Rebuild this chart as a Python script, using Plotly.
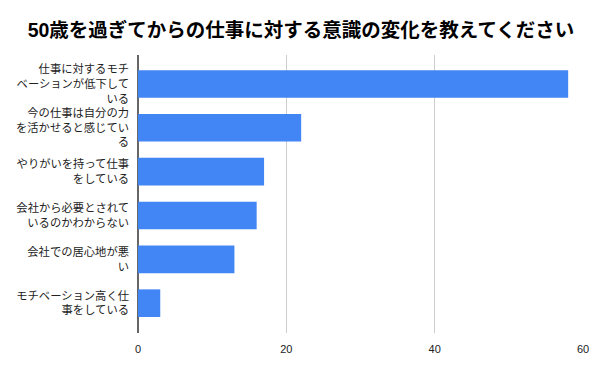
import plotly.graph_objects as go

categories = [
    "仕事に対するモチ<br>ベーションが低下して<br>いる",
    "今の仕事は自分の力<br>を活かせると感じてい<br>る",
    "やりがいを持って仕事<br>をしている",
    "会社から必要とされて<br>いるのかわからない",
    "会社での居心地が悪<br>い",
    "モチベーション高く仕<br>事をしている",
]
values = [58, 22, 17, 16, 13, 3]
x_ticks = [0, 20, 40, 60]
title = "50歳を過ぎてからの仕事に対する意識の変化を教えてください"

font_family = "Liberation Sans, Noto Sans CJK JP, sans-serif"

fig = go.Figure(
    go.Bar(
        x=values,
        y=categories,
        orientation="h",
        marker=dict(color="#4285f4", line=dict(width=0)),
        width=0.63,
        hoverinfo="x+y",
    )
)

fig.update_layout(
    width=602,
    height=372,
    margin=dict(l=138, r=19, t=55, b=39),
    paper_bgcolor="white",
    plot_bgcolor="white",
    showlegend=False,
    title=dict(
        text="<b>" + title + "</b>",
        x=0.5,
        xanchor="center",
        y=0.92,
        yanchor="middle",
        font=dict(family=font_family, size=19.5, color="#000000"),
    ),
    font=dict(family=font_family, size=11, color="#222222"),
)

fig.update_xaxes(
    range=[0, 60],
    tickvals=x_ticks,
    ticktext=[str(t) for t in x_ticks],
    showgrid=True,
    gridcolor="#cccccc",
    gridwidth=1,
    zeroline=True,
    zerolinecolor="#666666",
    zerolinewidth=1.6,
    showline=False,
    ticks="",
    ticklabelstandoff=8,
    automargin=False,
    tickfont=dict(size=11, color="#222222"),
)

fig.update_yaxes(
    range=[5.68, -0.66],
    showgrid=False,
    zeroline=False,
    showline=False,
    ticks="",
    ticklabelstandoff=8,
    automargin=False,
    tickfont=dict(size=11.3, color="#222222"),
)

fig.write_html(
    "out.html",
    config={"displayModeBar": False},
    post_script="document.body.style.margin='0';",
)
